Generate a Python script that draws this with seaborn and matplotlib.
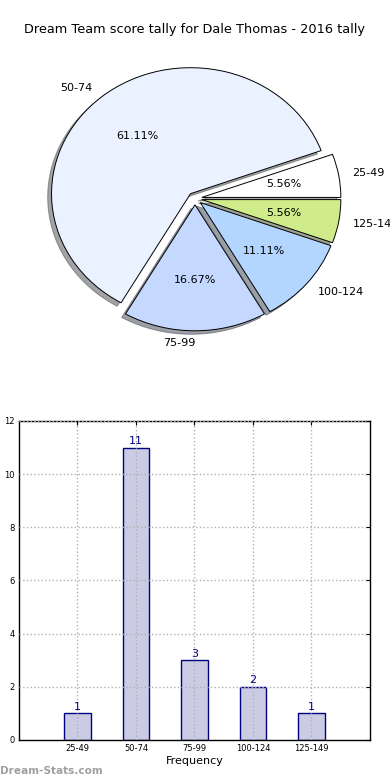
import numpy as np
import pandas as pd
import matplotlib
matplotlib.use('Agg')
import matplotlib.pyplot as plt
import seaborn as sns

# data
score_bands = ['25-49', '50-74', '75-99', '100-124', '125-149']
band_counts = [1, 11, 3, 2, 1]
pie_colors = ['#ffffff', '#eaf1ff', '#c5d8ff', '#b2d6ff', '#d0ec8a']
title = 'Dream Team score tally for Dale Thomas - 2016 tally'

sns.set_style('white')
plt.rcParams['font.family'] = ['DejaVu Sans']
plt.rcParams['text.color'] = 'black'
plt.rcParams['xtick.color'] = 'black'
plt.rcParams['ytick.color'] = 'black'
plt.rcParams['axes.labelcolor'] = 'black'

fig = plt.figure(figsize=(3.9, 7.8), dpi=100)

# pie: top half
ax1 = fig.add_axes([0.0545, 0.5436, 0.891, 0.4038])
wedges, texts, autotexts = ax1.pie(
    band_counts, labels=score_bands, colors=pie_colors, autopct='%1.2f%%',
    startangle=0, explode=[0.05] * len(band_counts), shadow=True,
    wedgeprops={'edgecolor': 'black', 'linewidth': 0.7},
    textprops={'fontsize': 8, 'color': 'black'})
texts[2].set_ha('right')  # old matplotlib put the bottom label to the left
ax1.set_aspect('auto')
ax1.set_xlim(-1.25, 1.25)
ax1.set_ylim(-1.25, 1.25)
fig.text(0.5, 1 - 30 / 780, title, ha='center', va='center', fontsize=9.3)

# bar chart: bottom half
ax2 = fig.add_axes([0.0487, 0.0513, 0.9, 0.409])
df = pd.DataFrame({'band': score_bands, 'count': band_counts})
sns.barplot(data=df, x='band', y='count', order=score_bands, ax=ax2,
            color='#cbcce4', saturation=1, width=0.45,
            edgecolor='#000080', linewidth=1)
for c in ax2.containers:
    ax2.bar_label(c, color='#000080', fontsize=8, padding=1)
ax2.set_xlim(-1, 5)
ax2.set_ylim(0, 12)
ax2.set_yticks(range(0, 13, 2))
ax2.grid(True, linestyle=':', color='#b0b0b0', linewidth=1)
ax2.set_axisbelow(False)
for s in ax2.spines.values():
    s.set_visible(True)
    s.set_color('black')
    s.set_linewidth(1)
ax2.tick_params(direction='in', top=True, right=True, labelsize=6, length=3, pad=3)
ax2.set_xlabel('Frequency', fontsize=8, labelpad=2)
ax2.set_ylabel('Stat Instances', fontsize=8)
ax2.yaxis.set_label_coords(-0.058, 0.5)

fig.text(0.0, 0.0115, 'Dream-Stats.com', color='#a0a0a0', fontsize=7.6,
         fontweight='bold', ha='left', va='center')

fig.savefig('out.png', dpi=100)
